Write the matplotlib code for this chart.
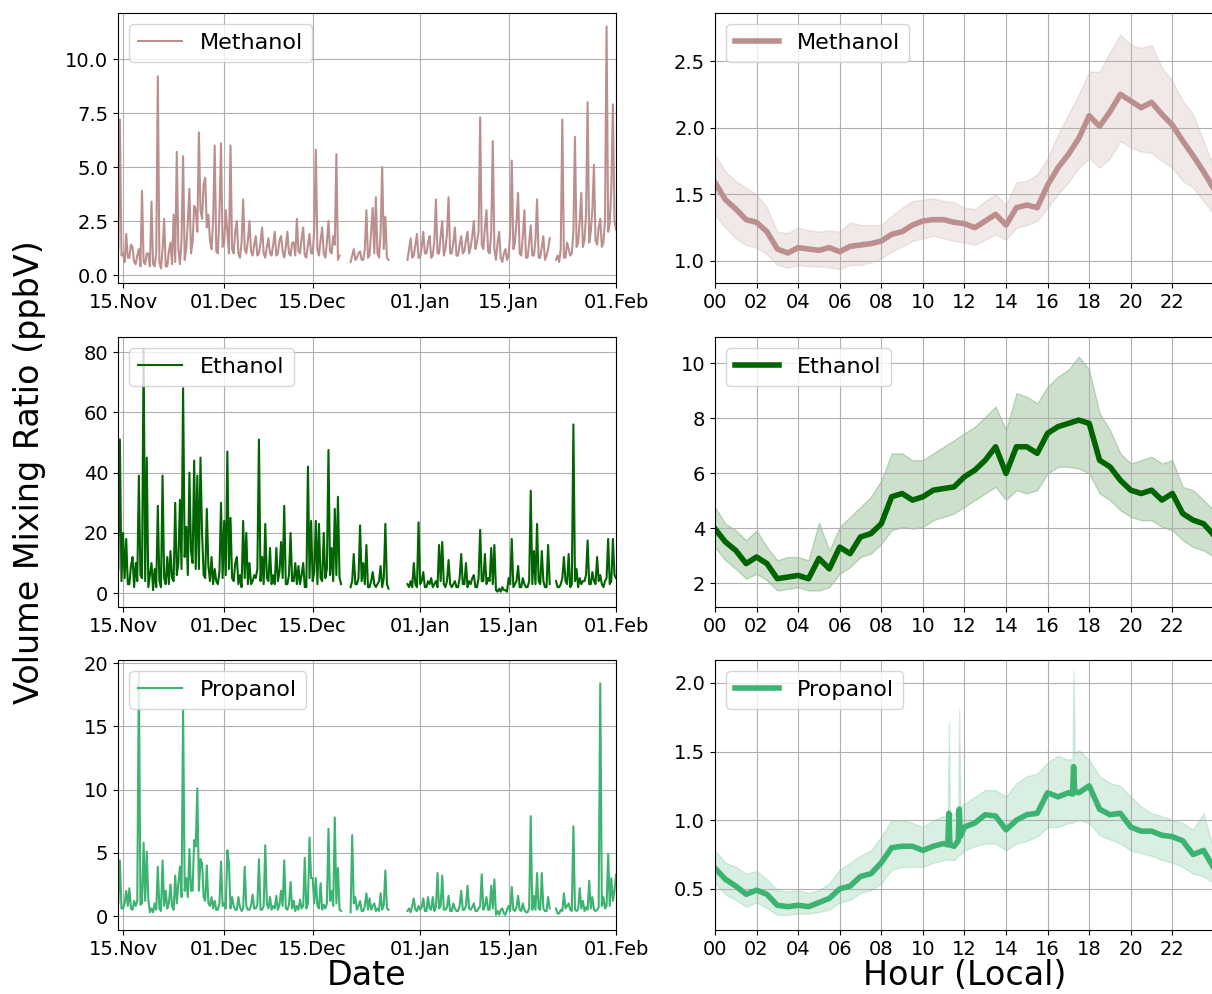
#VOC mixing ratios - time series and diurnal cycles
#left column: full campaign time series, right column: mean diurnal profile with spread

#import packages
import numpy as np
import pandas as pd
import matplotlib
matplotlib.use('Agg')
import matplotlib.pyplot as plt
import matplotlib.dates as mdates

nan = np.nan

#campaign time axis, 6 hourly values from 14 Nov to 01 Feb
times = pd.date_range('2019-11-14 00:00', periods=317, freq='6h')

#methanol time series (ppbV), four values per day (00, 06, 12, 18), nan = no data
methanol = [0.6, 1.2, 7.2, 0.9,   1.0, 0.6, 1.9, 0.8,
            0.8, 1.4, 1.3, 0.6,   0.5, 0.9, 1.2, 0.4,
            3.9, 0.6, 0.5, 1.0,   1.0, 0.4, 3.4, 0.5,
            0.4, 1.0, 9.2, 0.6,   0.3, 1.2, 2.6, 0.4,
            0.4, 1.1, 1.5, 0.5,   2.8, 0.6, 5.7, 1.2,
            0.5, 1.6, 5.5, 0.7,   1.2, 2.5, 4.0, 1.0,
            1.5, 3.2, 3.0, 2.0,   6.6, 3.0, 2.6, 4.2,
            4.5, 2.2, 2.8, 1.6,   1.2, 2.5, 6.0, 1.1,
            1.0, 2.8, 6.1, 1.3,   1.5, 3.0, 2.0, 1.0,
            6.0, 1.2, 1.0, 2.0,   2.5, 1.0, 0.8, 1.5,
            3.5, 1.2, 1.0, 1.6,   2.5, 1.1, 0.9, 1.4,
            1.8, 0.9, 1.0, 1.5,   2.2, 1.0, 0.8, 1.3,
            1.7, 1.0, 0.9, 1.4,   2.0, 0.9, 1.0, 1.6,
            1.8, 1.1, 0.8, 1.3,   2.0, 1.0, 0.9, 1.5,
            1.5, 0.9, 2.6, 1.1,   1.0, 1.7, 2.2, 0.9,
            0.8, 1.4, 1.9, 1.0,   1.0, 2.1, 5.8, 1.2,
            0.9, 1.6, 2.2, 1.0,   0.8, 1.5, 2.5, 1.1,
            1.0, 1.8, 1.4, 5.6,   0.7, 0.9, nan, nan,
            nan, nan, nan, nan,   0.6, 0.9, 1.2, 0.7,
            0.8, 1.0, 1.1, 0.7,   0.7, 1.2, 3.0, 0.8,
            0.9, 2.0, 3.1, 1.0,   3.6, 1.0, 0.8, 2.0,
            5.0, 1.2, 2.7, 0.8,   0.7, nan, nan, nan,
            nan, nan, nan, nan,   nan, nan, nan, nan,
            0.7, 1.2, 1.7, 0.8,   0.9, 1.4, 1.9, 0.8,
            0.8, 1.3, 2.0, 1.0,   1.0, 1.5, 1.8, 0.8,
            0.9, 1.6, 3.5, 1.0,   1.0, 1.8, 2.5, 0.9,
            1.2, 1.9, 3.6, 1.0,   1.0, 1.5, 2.2, 0.9,
            0.9, 1.4, 1.8, 1.0,   1.1, 1.6, 2.0, 1.0,
            1.3, 1.8, 2.5, 1.2,   1.5, 2.0, 7.3, 1.4,
            1.2, 2.2, 3.0, 1.1,   1.0, 2.0, 6.2, 1.2,
            0.7, 1.5, 2.0, 0.8,   0.6, 1.0, 1.2, 0.7,
            0.9, 2.0, 5.3, 1.2,   1.5, 2.5, 3.8, 1.0,
            0.9, 1.8, 3.0, 0.8,   0.8, 1.5, 2.3, 0.9,
            0.9, 1.6, 3.5, 0.8,   0.8, 1.3, 1.8, 0.7,
            0.9, 1.2, 1.7, nan,   nan, nan, 0.7, 0.9,
            0.6, 1.2, 7.2, 0.8,   0.8, 1.5, 1.2, 0.9,
            1.0, 2.0, 6.4, 1.3,   1.5, 2.5, 3.8, 1.3,
            1.6, 2.8, 8.0, 1.5,   2.0, 3.0, 5.1, 1.6,
            1.4, 2.2, 2.6, 1.3,   1.5, 2.5, 11.5, 2.0,
            2.4, 4.0, 7.9, 2.5,   2.1]

#ethanol time series (ppbV)
ethanol = [3, 8, 51, 4,   20, 5, 18, 3,
           3, 9, 12, 2,   10, 4, 39, 6,
           5, 81, 4, 45,   2, 6, 10, 1,
           8, 2, 29, 4,   2, 39, 5, 3,
           12, 3, 14, 5,   4, 30, 6, 10,
           31, 8, 68, 12,   22, 6, 40, 14,
           10, 44, 8, 39,   8, 45, 20, 6,
           5, 28, 9, 4,   12, 3, 8, 4,
           3, 7, 30, 5,   24, 6, 47, 8,
           25, 5, 4, 10,   12, 3, 6, 2,
           24, 5, 20, 3,   10, 3, 4, 6,
           5, 8, 51, 4,   12, 3, 23, 5,
           4, 15, 3, 6,   3, 15, 4, 7,
           17, 5, 29, 3,   3, 6, 20, 4,
           4, 10, 3, 9,   3, 6, 10, 2,
           2, 42, 5, 24,   4, 7, 24, 3,
           23, 5, 4, 20,   5, 8, 47.5, 6,
           15, 4, 28, 6,   32, 5, 3, nan,
           nan, nan, nan, nan,   2, 4, 13, 3,
           3, 5, 22.5, 4,   10, 3, 16, 2,
           2, 4, 7, 3,   2, 3, 4, 9,
           2, 5, 23, 3,   1.5, nan, nan, nan,
           nan, nan, nan, nan,   nan, nan, nan, nan,
           3, 2, 4, 2,   10, 3, 2, 23.5,
           3, 4, 7, 2,   2, 4, 3, 5,
           2, 3, 4, 2,   16, 4, 17, 3,
           2, 4, 11, 3,   2, 3, 4, 2,
           2, 5, 13, 3,   3, 10, 2, 4,
           3, 5, 6, 2,   2, 5, 21, 4,
           4, 13, 3, 5,   4, 15, 3, 16,
           1, 0.5, 1.5, 0.5,   2, 1, 1, 0.5,
           5, 3, 18, 2,   3, 4, 9, 2,
           2, 5, 3, 2,   2, 4, 34, 3,
           14, 3, 23, 4,   3, 14, 4, 2,
           2, 16, 3, nan,   nan, nan, 4, 2,
           2, 3, 5, 12,   4, 3, 13, 2,
           3, 56, 4, 8,   2, 5, 3, 4,
           4, 6, 17.5, 3,   3, 7, 4, 3,
           12, 4, 6, 3,   2, 4, 5, 18,
           3, 4, 18, 6,   5]

#propanol time series (ppbV)
propanol = [0.5, 1.0, 4.4, 0.6,   0.6, 1.0, 2.0, 0.8,
            2.2, 0.6, 0.5, 1.2,   0.8, 1.2, 19.3, 0.9,
            1.0, 5.8, 1.2, 5.1,   1.3, 0.3, 0.6, 0.3,
            1.0, 0.5, 3.9, 0.6,   0.4, 4.4, 0.8, 2.0,
            0.6, 1.0, 2.5, 0.8,   0.5, 3.2, 1.0, 2.6,
            3.9, 1.5, 16.3, 2.0,   3.0, 1.5, 5.3, 2.0,
            2.0, 6.0, 5.5, 10.1,   2.0, 4.5, 4.2, 1.5,
            1.2, 4.0, 1.0, 0.8,   1.5, 0.6, 1.2, 0.5,
            0.5, 1.0, 4.3, 0.8,   1.0, 0.6, 5.2, 4.2,
            0.6, 1.5, 0.8, 0.5,   0.5, 1.5, 0.7, 0.4,
            0.6, 3.9, 0.8, 0.5,   0.5, 0.8, 1.7, 0.6,
            0.6, 0.9, 4.5, 0.5,   0.5, 0.8, 5.6, 1.0,
            0.6, 1.5, 0.5, 0.8,   0.6, 1.6, 0.5, 0.9,
            2.0, 0.8, 4.4, 0.6,   0.5, 0.9, 2.7, 0.6,
            1.2, 0.4, 0.8, 0.5,   1.3, 0.6, 0.8, 4.6,
            0.6, 1.0, 6.2, 3.0,   3.0, 1.0, 3.0, 0.8,
            0.6, 2.6, 0.5, 0.9,   0.6, 1.0, 6.9, 1.2,
            2.0, 0.8, 7.8, 1.0,   3.8, 0.5, 0.4, nan,
            nan, nan, nan, nan,   0.3, 6.4, 1.0, 1.5,
            0.5, 0.8, 1.2, 0.4,   0.4, 0.8, 1.8, 0.5,
            1.4, 0.5, 0.8, 1.0,   0.4, 0.6, 0.4, 1.8,
            0.5, 0.9, 3.6, 0.6,   0.5, nan, nan, nan,
            nan, nan, nan, nan,   nan, nan, nan, nan,
            0.4, 0.6, 0.3, 0.8,   1.4, 0.5, 0.4, 0.8,
            0.5, 0.7, 1.4, 0.4,   0.4, 1.5, 0.6, 0.5,
            1.5, 0.4, 0.7, 3.4,   0.6, 0.8, 3.2, 0.5,
            0.5, 0.7, 1.6, 0.4,   0.4, 1.0, 0.6, 0.4,
            0.4, 0.8, 2.0, 0.5,   0.5, 0.8, 2.4, 0.6,
            0.5, 0.7, 1.0, 0.4,   0.4, 0.6, 0.8, 3.3,
            0.5, 0.8, 1.5, 0.5,   0.5, 2.4, 0.6, 2.9,
            0.1, 0.4, 0.1, 0.5,   0.6, 0.2, 0.1, 0.5,
            0.8, 0.4, 2.3, 0.5,   0.4, 0.7, 1.6, 0.5,
            0.4, 1.0, 0.5, 0.3,   0.3, 0.6, 7.9, 0.5,
            1.6, 0.5, 3.4, 0.6,   0.5, 3.4, 0.6, 0.4,
            0.4, 1.5, 0.6, nan,   nan, nan, 0.6, 0.2,
            0.2, 0.5, 0.4, 1.8,   0.6, 0.8, 1.0, 0.5,
            0.4, 7.1, 0.5, 0.4,   0.5, 2.2, 0.6, 1.2,
            0.4, 0.7, 0.5, 2.8,   0.6, 1.5, 0.5, 0.4,
            0.5, 0.7, 18.4, 0.8,   1.5, 0.6, 0.8, 4.9,
            0.8, 3.0, 1.2, 2.0,   3.3]

#diurnal profile, half hourly from 00 to 24 local time
hours = np.arange(0, 24.01, 0.5)

meth_mean = [1.59, 1.46, 1.39, 1.31, 1.29, 1.22, 1.09, 1.06, 1.10, 1.09,
             1.08, 1.10, 1.07, 1.11, 1.12, 1.13, 1.15, 1.20, 1.22, 1.27,
             1.30, 1.31, 1.31, 1.29, 1.28, 1.25, 1.30, 1.35, 1.27, 1.40,
             1.42, 1.40, 1.57, 1.70, 1.80, 1.92, 2.09, 2.01, 2.12, 2.25,
             2.20, 2.15, 2.19, 2.10, 2.02, 1.90, 1.79, 1.67, 1.54]
meth_high = [1.80, 1.67, 1.60, 1.55, 1.50, 1.40, 1.22, 1.21, 1.25, 1.23,
             1.22, 1.23, 1.22, 1.29, 1.27, 1.27, 1.27, 1.34, 1.40, 1.45,
             1.46, 1.47, 1.45, 1.44, 1.40, 1.39, 1.45, 1.50, 1.42, 1.59,
             1.60, 1.65, 1.77, 1.95, 2.10, 2.25, 2.42, 2.42, 2.57, 2.70,
             2.62, 2.60, 2.62, 2.45, 2.35, 2.20, 2.10, 1.90, 1.70]
meth_low = [1.35, 1.25, 1.17, 1.12, 1.10, 1.05, 0.97, 0.95, 0.97, 0.96,
            0.96, 0.95, 0.94, 0.97, 0.97, 0.99, 1.02, 1.07, 1.11, 1.15,
            1.17, 1.19, 1.17, 1.15, 1.14, 1.12, 1.16, 1.20, 1.16, 1.25,
            1.27, 1.30, 1.40, 1.50, 1.59, 1.70, 1.77, 1.70, 1.77, 1.90,
            1.85, 1.82, 1.81, 1.75, 1.70, 1.60, 1.55, 1.45, 1.35]

eth_mean = [3.98, 3.50, 3.19, 2.71, 2.95, 2.71, 2.16, 2.22, 2.28, 2.16,
            2.90, 2.52, 3.31, 3.07, 3.68, 3.80, 4.16, 5.14, 5.26, 5.02,
            5.14, 5.38, 5.44, 5.50, 5.87, 6.11, 6.47, 6.96, 5.99, 6.96,
            6.96, 6.72, 7.45, 7.69, 7.81, 7.93, 7.81, 6.47, 6.23, 5.74,
            5.38, 5.26, 5.38, 5.02, 5.26, 4.53, 4.29, 4.16, 3.74]
eth_high = [4.77, 4.16, 3.92, 3.56, 3.92, 3.31, 2.83, 2.95, 2.95, 2.83,
            4.20, 3.19, 4.04, 4.41, 4.77, 5.14, 5.74, 6.72, 6.72, 6.47,
            6.47, 6.72, 6.96, 7.20, 7.45, 7.69, 8.05, 8.42, 7.57, 8.91,
            8.78, 8.54, 9.15, 9.51, 9.76, 10.24, 9.76, 8.18, 7.57, 6.72,
            6.35, 6.47, 6.60, 6.35, 6.47, 5.50, 5.38, 5.02, 4.65]
eth_low = [3.31, 2.83, 2.52, 2.16, 2.34, 2.10, 1.73, 1.79, 1.85, 1.73,
           1.73, 1.85, 2.34, 2.58, 2.95, 3.07, 3.43, 3.92, 4.04, 3.98,
           4.04, 4.29, 4.41, 4.53, 4.77, 5.02, 5.26, 5.50, 5.02, 5.38,
           5.26, 5.38, 5.99, 6.23, 6.23, 6.17, 5.99, 5.26, 5.02, 4.65,
           4.41, 4.29, 4.29, 4.04, 3.92, 3.56, 3.31, 3.19, 2.95]

#propanol has a few short spikes, so it gets its own hour list
prop_hours = [0.0, 0.5, 1.0, 1.5, 2.0, 2.5, 3.0, 3.5, 4.0, 4.5,
              5.0, 5.5, 6.0, 6.5, 7.0, 7.5, 8.0, 8.5, 9.0, 9.5,
              10.0, 10.5, 11.0, 11.2, 11.25, 11.3, 11.5, 11.7, 11.75, 11.8,
              12.0, 12.5, 13.0, 13.5, 14.0, 14.5, 15.0, 15.5, 16.0, 16.5,
              17.0, 17.2, 17.25, 17.3, 17.5, 18.0, 18.5, 19.0, 19.5, 20.0,
              20.5, 21.0, 21.5, 22.0, 22.5, 23.0, 23.5, 24.0]
prop_mean = [0.65, 0.57, 0.52, 0.46, 0.49, 0.46, 0.38, 0.37, 0.38, 0.37,
             0.40, 0.43, 0.50, 0.52, 0.59, 0.61, 0.69, 0.80, 0.81, 0.81,
             0.78, 0.81, 0.83, 0.82, 1.05, 0.82, 0.81, 0.85, 1.08, 0.88,
             0.95, 0.98, 1.04, 1.03, 0.93, 1.00, 1.04, 1.05, 1.20, 1.17,
             1.20, 1.19, 1.39, 1.21, 1.20, 1.25, 1.08, 1.04, 1.05, 0.95,
             0.92, 0.92, 0.89, 0.88, 0.85, 0.75, 0.78, 0.65]
prop_high = [0.78, 0.69, 0.66, 0.61, 0.63, 0.57, 0.49, 0.48, 0.49, 0.47,
             0.49, 0.54, 0.64, 0.69, 0.74, 0.78, 0.88, 1.00, 1.00, 0.98,
             0.95, 1.00, 1.03, 1.02, 1.71, 1.03, 1.05, 1.08, 1.81, 1.10,
             1.12, 1.17, 1.22, 1.22, 1.17, 1.27, 1.32, 1.34, 1.42, 1.47,
             1.44, 1.45, 2.09, 1.48, 1.51, 1.44, 1.32, 1.27, 1.25, 1.17,
             1.10, 1.05, 1.03, 1.00, 0.98, 0.93, 1.05, 0.78]
prop_low = [0.54, 0.46, 0.42, 0.37, 0.40, 0.36, 0.31, 0.31, 0.32, 0.32,
            0.33, 0.35, 0.40, 0.42, 0.47, 0.49, 0.54, 0.64, 0.66, 0.66,
            0.66, 0.69, 0.71, 0.71, 0.72, 0.71, 0.71, 0.74, 0.75, 0.75,
            0.78, 0.81, 0.83, 0.83, 0.78, 0.83, 0.85, 0.88, 0.95, 0.95,
            0.98, 0.98, 1.00, 0.99, 1.00, 0.98, 0.89, 0.86, 0.83, 0.78,
            0.76, 0.74, 0.71, 0.69, 0.66, 0.61, 0.59, 0.54]

names = ['Methanol', 'Ethanol', 'Propanol']
colours = ['rosybrown', 'darkgreen', 'mediumseagreen']
series = [methanol, ethanol, propanol]
dc_hours = [hours, hours, prop_hours]
means = [meth_mean, eth_mean, prop_mean]
highs = [meth_high, eth_high, prop_high]
lows = [meth_low, eth_low, prop_low]

#y limits
ylims_ts = [(-0.37, 12.13), (-4.6, 85.0), (-1.1, 20.24)]
ylims_dc = [(0.835, 2.86), (1.13, 10.95), (0.20, 2.167)]

date_ticks = pd.to_datetime(['2019-11-15', '2019-12-01', '2019-12-15',
                             '2020-01-01', '2020-01-15', '2020-02-01'])

fig = plt.figure(figsize=(12.12, 9.94), dpi=100)

#axes positions in figure fractions (top, middle, bottom row)
row_bottoms = [0.7153, 0.3893, 0.0644]
row_height = 0.2716

for i in range(3):

    #time series on the left
    ax = fig.add_axes([0.0974, row_bottoms[i], 0.4109, row_height])
    ax.plot(times, series[i], color=colours[i], lw=1.5, label=names[i])
    ax.set_xlim(pd.Timestamp('2019-11-14 05:00'), pd.Timestamp('2020-02-01'))
    ax.set_ylim(ylims_ts[i])
    ax.set_xticks(date_ticks)
    ax.xaxis.set_major_formatter(mdates.DateFormatter('%d.%b'))
    ax.tick_params(labelsize=14)
    ax.grid(True)
    ax.legend(loc='upper left', fontsize=16)
    if i == 2:
        ax.set_xlabel('Date', fontsize=24, labelpad=0)

    #diurnal cycle on the right
    ax2 = fig.add_axes([0.5899, row_bottoms[i], 0.4117, row_height])
    ax2.fill_between(dc_hours[i], lows[i], highs[i], color=colours[i], alpha=0.2)
    ax2.plot(dc_hours[i], means[i], color=colours[i], lw=4, label=names[i])
    ax2.set_xlim(0, 24)
    ax2.set_ylim(ylims_dc[i])
    ax2.set_xticks(range(0, 24, 2))
    ax2.set_xticklabels(['%02d' % h for h in range(0, 24, 2)])
    ax2.tick_params(labelsize=14)
    ax2.grid(True)
    ax2.legend(loc='upper left', fontsize=16)
    if i == 2:
        ax2.set_xlabel('Hour (Local)', fontsize=24, labelpad=0)

#shared y label
fig.text(30 / 1212, 1 - 472 / 994, 'Volume Mixing Ratio (ppbV)', rotation=90,
         ha='center', va='center', fontsize=24)

fig.savefig('out.png', dpi=100)
